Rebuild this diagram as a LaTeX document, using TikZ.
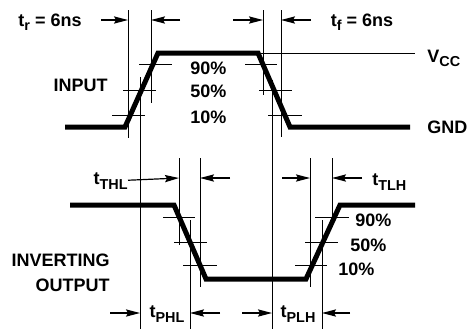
\documentclass[tikz,border=0pt]{standalone}
\usepackage{fontspec}
\setmainfont{Liberation Sans}
\usepackage{tikz}
\usetikzlibrary{arrows.meta, positioning}
\newcommand{\lowtxt}[1]{\raisebox{-2.2pt}{\fontsize{7.2}{8}\selectfont #1}}

\begin{document}
\begin{tikzpicture}[
    x=0.5pt, y=-0.5pt,
    wave/.style={line width=2.5pt},
    guide/.style={line width=0.5pt},
    dimarrow/.style={line width=0.6pt, -{Stealth[length=7pt, width=3.6pt, inset=1pt]}},
    lbl/.style={font=\fontsize{9}{10}\selectfont\bfseries, inner sep=0pt}
]
    \useasboundingbox (0,0) rectangle (467,329);

    % input
    \draw[wave] (65,127) -- (125,127) -- (158,53) -- (258,53) -- (290,127) -- (410,127);
    \draw[guide] (258,53) -- (415,53);
    \draw[guide] (139,64) -- (172,64) (123,90) -- (156,90) (112,115) -- (145,115);
    \draw[guide] (245,64) -- (277,64) (259,90) -- (292,90) (268,115) -- (302,115);

    \coordinate (rA) at (128,20);
    \coordinate (rB) at (151,20);
    \coordinate (fA) at (263,20);
    \coordinate (fB) at (281,20);
    \draw[guide] (rA |- 0,10) -- (rA |- 0,138);
    \draw[guide] (rB |- 0,10) -- (rB |- 0,103);
    \draw[guide] (fA |- 0,10) -- (fA |- 0,95);
    \draw[guide] (fB |- 0,10) -- (fB |- 0,137);
    \draw[dimarrow] ([xshift=-13.5pt]rA) -- (rA);
    \draw[dimarrow] ([xshift=14.5pt]rB) -- (rB);
    \draw[dimarrow] ([xshift=-15pt]fA) -- (fA);
    \draw[dimarrow] ([xshift=15pt]fB) -- (fB);

    \node[lbl] (trise) at (50,22) {t\lowtxt{r} = 6ns};
    \node[lbl] (tfall) at (362,22) {t\lowtxt{f} = 6ns};
    \node[lbl, anchor=base west] (vcc) at (427,62) {V\lowtxt{CC}};
    \node[lbl, anchor=west] (gnd) at (427,127) {GND};
    \node[lbl, anchor=east] (input) at (108,85) {INPUT};
    \node[lbl, anchor=west] (in90) at (190,68) {90\%};
    \node[lbl, anchor=west] (in50) at (190,91) {50\%};
    \node[lbl, anchor=west] (in10) at (190,117) {10\%};

    % inverting output
    \draw[wave] (70,205) -- (174,205) -- (206,279) -- (306,279) -- (340,205) -- (415,205);
    \draw[guide] (163,217) -- (195,217) (174,242) -- (207,242) (183,265) -- (217,265);
    \draw[guide] (315,217) -- (349,217) (305,242) -- (338,242) (295,265) -- (327,265);

    \coordinate (hA) at (179,178);
    \coordinate (hB) at (200,178);
    \coordinate (lA) at (310,178);
    \coordinate (lB) at (332,178);
    \coordinate (pA) at (140,313);
    \coordinate (pB) at (190,313);
    \coordinate (qA) at (272,313);
    \coordinate (qB) at (322,313);
    \draw[guide] (hA |- 0,158) -- (hA |- 0,245);
    \draw[guide] (hB |- 0,158) -- (hB |- 0,287);
    \draw[guide] (lA |- 0,158) -- (lA |- 0,287);
    \draw[guide] (lB |- 0,158) -- (lB |- 0,222);
    \draw[guide] (pA |- 0,77) -- (pA |- 0,329);
    \draw[guide] (pB |- 0,220) -- (pB |- 0,329);
    \draw[guide] (qA |- 0,80) -- (qA |- 0,329);
    \draw[guide] (qB |- 0,220) -- (qB |- 0,329);

    \node[lbl, anchor=east] (tthl) at (128,181) {t\lowtxt{THL}};
    \node[lbl, anchor=west] (ttlh) at (372,182) {t\lowtxt{TLH}};
    \node[lbl] (tphl) at (167,314) {t\lowtxt{PHL}};
    \node[lbl] (tplh) at (298,314) {t\lowtxt{PLH}};
    \draw[dimarrow] (tthl) -- (hA);
    \draw[dimarrow] ([xshift=15pt]hB) -- (hB);
    \draw[dimarrow] ([xshift=-14pt]lA) -- (lA);
    \draw[dimarrow] ([xshift=15pt]lB) -- (lB);
    \draw[dimarrow] ([xshift=-15pt]pA) -- (pA);
    \draw[dimarrow] ([xshift=15pt]pB) -- (pB);
    \draw[dimarrow] ([xshift=-15pt]qA) -- (qA);
    \draw[dimarrow] ([xshift=14pt]qB) -- (qB);

    \node[lbl, anchor=east] (invert) at (110,260) {INVERTING};
    \node[lbl, anchor=east] (output) at (110,285) {OUTPUT};
    \node[lbl, anchor=west] (out90) at (355,220) {90\%};
    \node[lbl, anchor=west] (out50) at (350,245) {50\%};
    \node[lbl, anchor=west] (out10) at (338,269) {10\%};
\end{tikzpicture}
\end{document}
